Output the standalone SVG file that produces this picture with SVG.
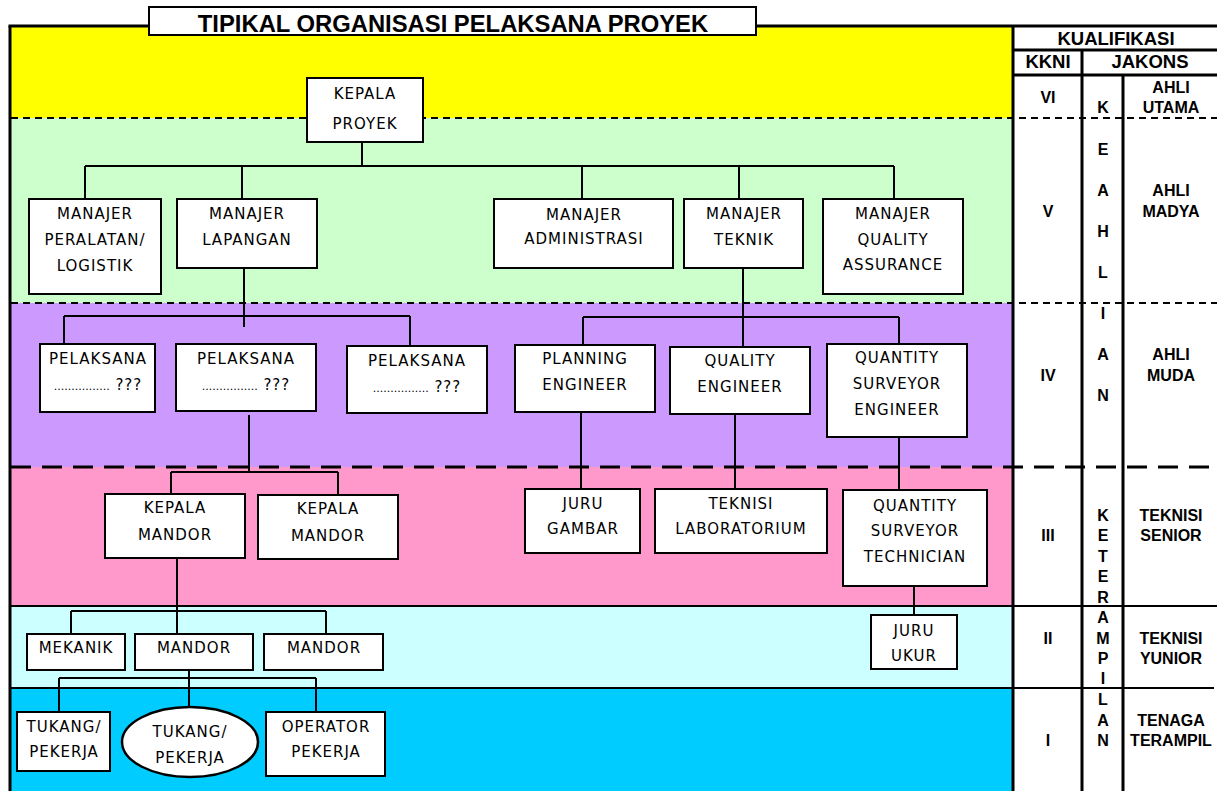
<svg xmlns="http://www.w3.org/2000/svg" width="1217" height="791" viewBox="0 0 1217 791">
<style>
.box{fill:#fff;stroke:#000;stroke-width:2}
.nt{font-family:"DejaVu Sans","Liberation Sans",sans-serif;font-size:15px;letter-spacing:1px;text-anchor:middle;fill:#000}
.dots{font-size:11px;letter-spacing:0px}
.tb{font-family:"Liberation Sans",Arial,sans-serif;font-weight:bold;font-size:16px;text-anchor:middle;fill:#000}
.th{font-family:"Liberation Sans",Arial,sans-serif;font-weight:bold;font-size:18.5px;text-anchor:middle;fill:#000}
.cn{fill:none;stroke:#000;stroke-width:2}
.d1{stroke:#000;stroke-width:2;stroke-dasharray:7 5;fill:none}
.d2{stroke:#000;stroke-width:3;stroke-dasharray:20 11;fill:none}
.sl{stroke:#000;stroke-width:2;fill:none}
.tk{stroke:#000;stroke-width:3;fill:none}
</style>
<rect x="0" y="0" width="1217" height="791" fill="#fff"/>
<g id="bands">
<rect x="11" y="27" width="1001" height="91" fill="#FFFF00"/>
<rect x="11" y="118" width="1001" height="185" fill="#CCFFCC"/>
<rect x="11" y="303" width="1001" height="164" fill="#CC99FF"/>
<rect x="11" y="467" width="1001" height="139" fill="#FF99CC"/>
<rect x="11" y="606" width="1001" height="82" fill="#CCFFFF"/>
<rect x="11" y="688" width="1001" height="103" fill="#00CCFF"/>
</g>
<g id="level-lines">
<line class="d1" x1="11" y1="118" x2="1217" y2="118"/>
<line class="d1" x1="11" y1="303" x2="1217" y2="303"/>
<line class="d2" x1="11" y1="467" x2="1217" y2="467"/>
<line class="sl" x1="11" y1="606" x2="1217" y2="606"/>
<line class="sl" x1="11" y1="688" x2="1214" y2="688"/>
</g>
<g id="connectors">
<path class="cn" d="M362,142V166M85,166H894M85,166V199M242,166V199M582,166V199M739,166V199M894,166V199"/>
<path class="cn" d="M244,268V327M64,316H410M64,316V344M410,316V346"/>
<path class="cn" d="M743,268V347M583,317H899M583,317V345M899,317V344"/>
<path class="cn" d="M249,415V472M171,472H338M171,472V494M338,472V495"/>
<path class="cn" d="M177,558V634M71,611H326M71,611V634M326,611V634"/>
<path class="cn" d="M189,670V707M59,678H316M59,678V712M316,678V712"/>
<path class="cn" d="M581,412V489M735,414V489M899,437V491M914,586V615"/>
</g>
<g id="kepala-proyek"><rect class="box" x="307" y="78" width="116" height="64"/><text class="nt" x="365" y="99">KEPALA</text><text class="nt" x="365" y="129">PROYEK</text></g>
<g id="manajer-peralatan"><rect class="box" x="29" y="199" width="132" height="95"/><text class="nt" x="95" y="219">MANAJER</text><text class="nt" x="95" y="245">PERALATAN/</text><text class="nt" x="95" y="271">LOGISTIK</text></g>
<g id="manajer-lapangan"><rect class="box" x="177" y="199" width="140" height="69"/><text class="nt" x="247" y="219">MANAJER</text><text class="nt" x="247" y="245">LAPANGAN</text></g>
<g id="manajer-administrasi"><rect class="box" x="494" y="199" width="179" height="69"/><text class="nt" x="584" y="220">MANAJER</text><text class="nt" x="584" y="244">ADMINISTRASI</text></g>
<g id="manajer-teknik"><rect class="box" x="684" y="199" width="119" height="69"/><text class="nt" x="744" y="219">MANAJER</text><text class="nt" x="744" y="245">TEKNIK</text></g>
<g id="manajer-qa"><rect class="box" x="823" y="199" width="140" height="95"/><text class="nt" x="893" y="219">MANAJER</text><text class="nt" x="893" y="245">QUALITY</text><text class="nt" x="893" y="270">ASSURANCE</text></g>
<g id="pelaksana-1"><rect class="box" x="40" y="344" width="115" height="68"/><text class="nt" x="98" y="364">PELAKSANA</text><text class="nt" x="98" y="390"><tspan class="dots">................</tspan> ???</text></g>
<g id="pelaksana-2"><rect class="box" x="176" y="344" width="140" height="67"/><text class="nt" x="246" y="364">PELAKSANA</text><text class="nt" x="246" y="390"><tspan class="dots">................</tspan> ???</text></g>
<g id="pelaksana-3"><rect class="box" x="347" y="346" width="140" height="67"/><text class="nt" x="417" y="366">PELAKSANA</text><text class="nt" x="417" y="392"><tspan class="dots">................</tspan> ???</text></g>
<g id="planning-engineer"><rect class="box" x="515" y="345" width="140" height="67"/><text class="nt" x="585" y="364">PLANNING</text><text class="nt" x="585" y="390">ENGINEER</text></g>
<g id="quality-engineer"><rect class="box" x="670" y="347" width="140" height="67"/><text class="nt" x="740" y="366">QUALITY</text><text class="nt" x="740" y="392">ENGINEER</text></g>
<g id="qs-engineer"><rect class="box" x="827" y="344" width="140" height="93"/><text class="nt" x="897" y="363">QUANTITY</text><text class="nt" x="897" y="389">SURVEYOR</text><text class="nt" x="897" y="415">ENGINEER</text></g>
<g id="kepala-mandor-1"><rect class="box" x="105" y="494" width="140" height="64"/><text class="nt" x="175" y="513">KEPALA</text><text class="nt" x="175" y="540">MANDOR</text></g>
<g id="kepala-mandor-2"><rect class="box" x="258" y="495" width="140" height="64"/><text class="nt" x="328" y="514">KEPALA</text><text class="nt" x="328" y="541">MANDOR</text></g>
<g id="juru-gambar"><rect class="box" x="525" y="489" width="115" height="64"/><text class="nt" x="583" y="509">JURU</text><text class="nt" x="583" y="534">GAMBAR</text></g>
<g id="teknisi-lab"><rect class="box" x="655" y="489" width="172" height="64"/><text class="nt" x="741" y="509">TEKNISI</text><text class="nt" x="741" y="534">LABORATORIUM</text></g>
<g id="qs-technician"><rect class="box" x="843" y="490" width="144" height="96"/><text class="nt" x="915" y="511">QUANTITY</text><text class="nt" x="915" y="536">SURVEYOR</text><text class="nt" x="915" y="562">TECHNICIAN</text></g>
<g id="juru-ukur"><rect class="box" x="871" y="615" width="86" height="54"/><text class="nt" x="914" y="636">JURU</text><text class="nt" x="914" y="661">UKUR</text></g>
<g id="mekanik"><rect class="box" x="27" y="634" width="98" height="36"/><text class="nt" x="76" y="653">MEKANIK</text></g>
<g id="mandor-1"><rect class="box" x="135" y="634" width="118" height="36"/><text class="nt" x="194" y="653">MANDOR</text></g>
<g id="mandor-2"><rect class="box" x="264" y="634" width="119" height="36"/><text class="nt" x="324" y="653">MANDOR</text></g>
<g id="tukang-1"><rect class="box" x="17" y="712" width="93" height="59"/><text class="nt" x="64" y="732">TUKANG/</text><text class="nt" x="64" y="757">PEKERJA</text></g>
<g id="tukang-2"><ellipse class="box" cx="190" cy="742" rx="68" ry="35" style="stroke-width:2.5"/><text class="nt" x="190" y="737">TUKANG/</text><text class="nt" x="190" y="763">PEKERJA</text></g>
<g id="operator"><rect class="box" x="266" y="712" width="119" height="64"/><text class="nt" x="326" y="732">OPERATOR</text><text class="nt" x="326" y="757">PEKERJA</text></g>
<g id="table">
<line class="tk" x1="1013" y1="26" x2="1013" y2="791"/>
<line class="tk" x1="1082" y1="50" x2="1082" y2="791"/>
<line class="tk" x1="1123" y1="75" x2="1123" y2="791"/>
<line class="tk" x1="1013" y1="50" x2="1217" y2="50"/>
<line class="tk" x1="1013" y1="75" x2="1217" y2="75"/>
<text class="th" x="1116" y="45">KUALIFIKASI</text>
<text class="th" x="1048" y="68">KKNI</text>
<text class="th" x="1150" y="68">JAKONS</text>
<text class="tb" x="1048" y="103">VI</text>
<text class="tb" x="1048" y="217">V</text>
<text class="tb" x="1048" y="381">IV</text>
<text class="tb" x="1048" y="541">III</text>
<text class="tb" x="1048" y="644">II</text>
<text class="tb" x="1048" y="746">I</text>
<text class="tb" x="1103" y="113">K</text>
<text class="tb" x="1103" y="155">E</text>
<text class="tb" x="1103" y="196">A</text>
<text class="tb" x="1103" y="237">H</text>
<text class="tb" x="1103" y="278">L</text>
<text class="tb" x="1103" y="319">I</text>
<text class="tb" x="1103" y="360">A</text>
<text class="tb" x="1103" y="401">N</text>
<text class="tb" x="1103" y="521">K</text>
<text class="tb" x="1103" y="541">E</text>
<text class="tb" x="1103" y="562">T</text>
<text class="tb" x="1103" y="582">E</text>
<text class="tb" x="1103" y="603">R</text>
<text class="tb" x="1103" y="623">A</text>
<text class="tb" x="1103" y="644">M</text>
<text class="tb" x="1103" y="664">P</text>
<text class="tb" x="1103" y="684">I</text>
<text class="tb" x="1103" y="705">L</text>
<text class="tb" x="1103" y="726">A</text>
<text class="tb" x="1103" y="746">N</text>
<text class="tb" x="1171" y="93">AHLI</text>
<text class="tb" x="1171" y="113">UTAMA</text>
<text class="tb" x="1171" y="196">AHLI</text>
<text class="tb" x="1171" y="217">MADYA</text>
<text class="tb" x="1171" y="360">AHLI</text>
<text class="tb" x="1171" y="381">MUDA</text>
<text class="tb" x="1171" y="521">TEKNISI</text>
<text class="tb" x="1171" y="541">SENIOR</text>
<text class="tb" x="1171" y="644">TEKNISI</text>
<text class="tb" x="1171" y="664">YUNIOR</text>
<text class="tb" x="1171" y="726">TENAGA</text>
<text class="tb" x="1171" y="746">TERAMPIL</text>
</g>
<g id="frame">
<line class="tk" x1="10" y1="26" x2="10" y2="791"/>
<line class="tk" x1="8.5" y1="26" x2="1217" y2="26"/>
</g>
<g id="title">
<rect x="149" y="7" width="607" height="28" fill="#fff" stroke="#000" stroke-width="2"/>
<text x="453" y="32" style="font-family:'Liberation Sans',Arial,sans-serif;font-weight:bold;font-size:23.8px;text-anchor:middle">TIPIKAL ORGANISASI PELAKSANA PROYEK</text>
</g>
</svg>
